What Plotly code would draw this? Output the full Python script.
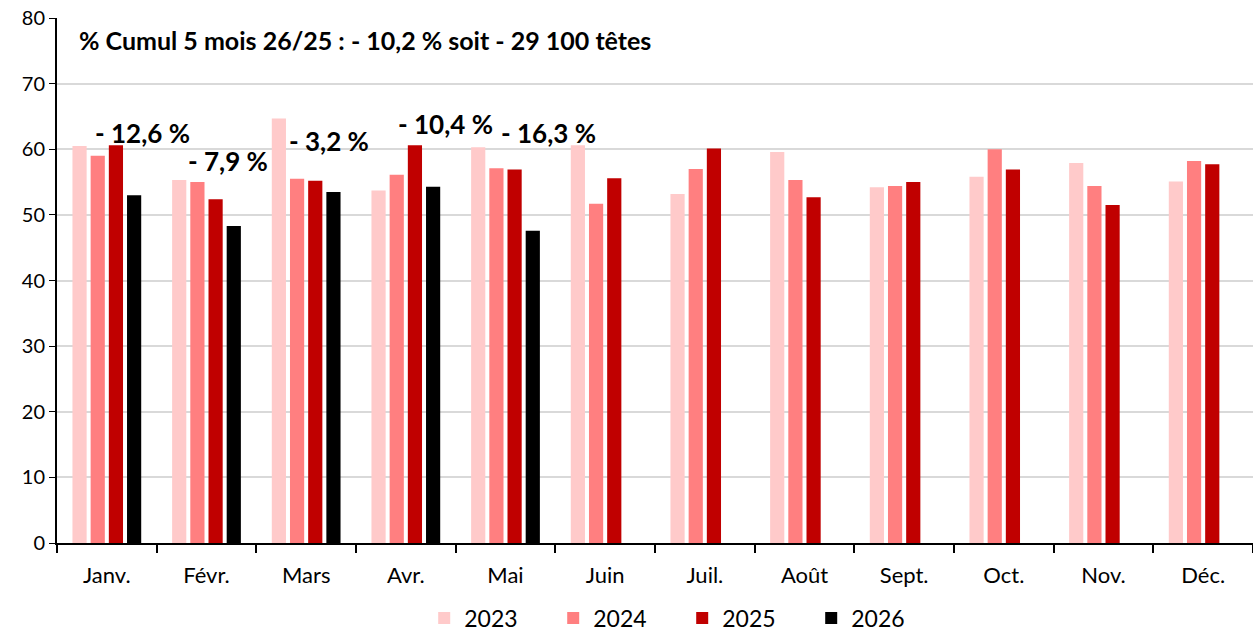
import plotly.graph_objects as go

months = ["Janv.", "Févr.", "Mars", "Avr.", "Mai", "Juin", "Juil.", "Août", "Sept.", "Oct.", "Nov.", "Déc."]
v2023 = [60.5, 55.3, 64.7, 53.7, 60.3, 60.6, 53.2, 59.6, 54.2, 55.8, 57.9, 55.1]
v2024 = [59.0, 55.0, 55.5, 56.1, 57.1, 51.7, 57.0, 55.3, 54.4, 60.0, 54.4, 58.2]
v2025 = [60.6, 52.4, 55.2, 60.6, 56.9, 55.6, 60.1, 52.7, 55.0, 56.9, 51.5, 57.7]
v2026 = [53.0, 48.3, 53.5, 54.3, 47.6, None, None, None, None, None, None, None]
var_labels = ["- 12,6 %", "- 7,9 %", "- 3,2 %", "- 10,4 %", "- 16,3 %"]
var_x = [0.36, 1.22, 2.23, 3.40, 4.43]
var_y = [62.5, 58.2, 61.3, 63.9, 62.5]
title_text = "% Cumul 5 mois 26/25 : - 10,2 % soit - 29 100 têtes"

series = [("2023", v2023, "#FFCACA"), ("2024", v2024, "#FF7F80"),
          ("2025", v2025, "#C00000"), ("2026", v2026, "#000000")]

FONT = "Lato, Open Sans, sans-serif"
W, H = 1253, 634
# plot area in page pixels
L, R, T, B = 57, 1253, 18, 543

fig = go.Figure()
for name, vals, col in series:
    fig.add_trace(go.Bar(x=months, y=vals, name=name, marker=dict(color=col, line=dict(width=0))))

for tx, x, y in zip(var_labels, var_x, var_y):
    fig.add_annotation(x=x, y=y, xref="x", yref="y", text="<b>" + tx + "</b>", showarrow=False,
                       font=dict(size=26, color="#000000", family=FONT))

fig.add_annotation(x=(77 - L) / (R - L), y=(B - 40) / (B - T), xref="paper", yref="paper",
                   text="<b>" + title_text + "</b>",
                   showarrow=False, xanchor="left", yanchor="middle",
                   font=dict(size=25, color="#000000", family=FONT))

fig.update_layout(
    width=W, height=H,
    margin=dict(l=L, r=W - R, t=T, b=H - B, autoexpand=False),
    paper_bgcolor="white", plot_bgcolor="white",
    barmode="group", bargap=0.27, bargroupgap=0.22,
    font=dict(family=FONT, size=22, color="#000000"),
    legend=dict(orientation="h", x=655 / W, xanchor="center",
                y=(H - 618) / H, yref="container", yanchor="middle",
                font=dict(size=23), entrywidth=84, entrywidthmode="pixels",
                traceorder="normal"),
    showlegend=True,
)
fig.update_xaxes(type="category", showline=True, linecolor="#000000", linewidth=2,
                 ticks="outside", tickson="boundaries", ticklen=8, tickcolor="#000000",
                 tickwidth=1.5, showgrid=False, tickfont=dict(size=22), ticklabelstandoff=12,
                 automargin=False)
fig.update_yaxes(range=[0, 80], dtick=10, showline=True, linecolor="#000000", linewidth=2,
                 ticks="outside", ticklen=6, tickcolor="#000000", showgrid=True,
                 gridcolor="#D9D9D9", gridwidth=2, tickfont=dict(size=20), zeroline=False,
                 automargin=False, ticklabeloverflow="allow")

fig.write_html("out.html", config={"displayModeBar": False},
               post_script="document.body.style.margin='0px';")
